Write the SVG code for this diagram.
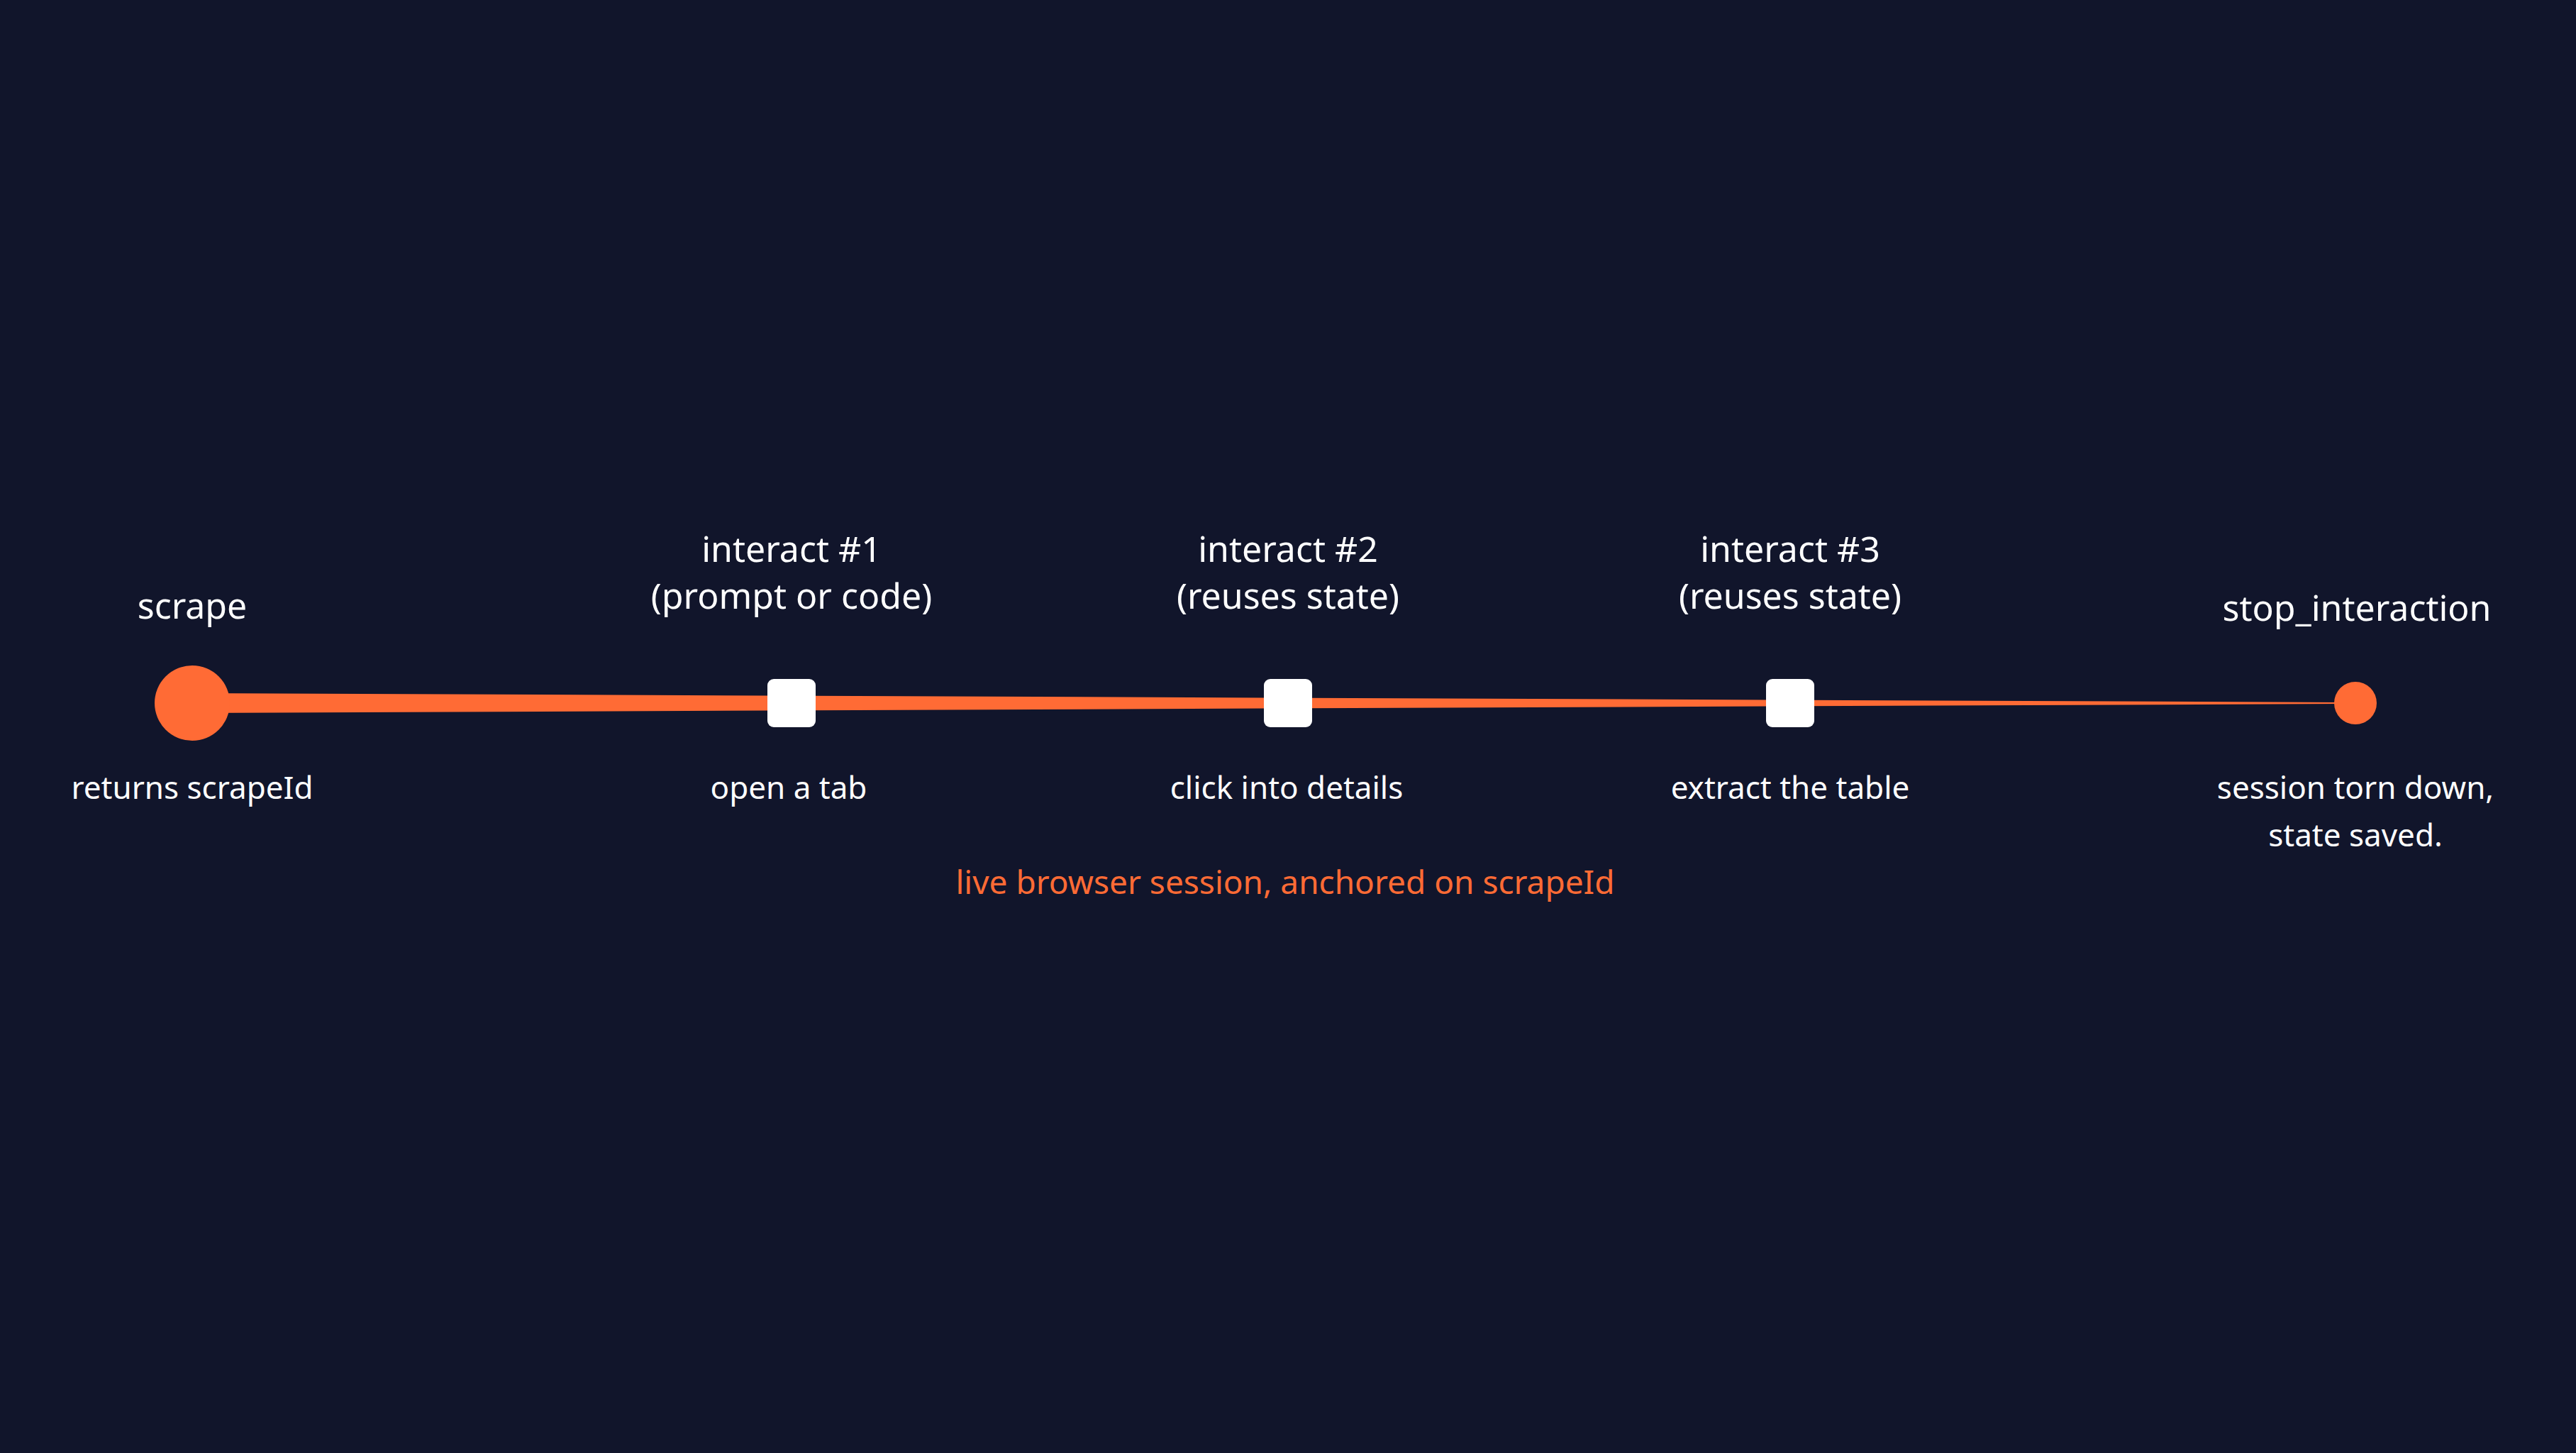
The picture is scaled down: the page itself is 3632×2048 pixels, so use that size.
<svg xmlns="http://www.w3.org/2000/svg" width="3632" height="2048" viewBox="0 0 3632 2048">
<style>
.t{font-family:"Noto Sans","Liberation Sans",sans-serif;fill:#ffffff;text-anchor:middle}
.h{font-size:50px}
.s{font-size:44px}
.o{font-family:"Noto Sans","Liberation Sans",sans-serif;fill:#ff6b35;font-size:46px;text-anchor:middle}
.sq{fill:#ffffff}
</style>
<rect width="3632" height="2048" fill="#11152b"/>
<g id="connectors">
<polygon points="271,977 3321,990 3321,992 271,1005" fill="#ff6b35"/>
</g>
<g id="scrape">
<circle cx="271" cy="991" r="53" fill="#ff6b35"/>
<text class="t h" x="271" y="872">scrape</text>
<text class="t s" x="271" y="1126">returns scrapeId</text>
</g>
<g id="interact1">
<rect class="sq" x="1082" y="957" width="68" height="68" rx="9"/>
<text class="t h" x="1116" y="792">interact #1</text>
<text class="t h" x="1116" y="858">(prompt or code)</text>
<text class="t s" x="1112" y="1126">open a tab</text>
</g>
<g id="interact2">
<rect class="sq" x="1782" y="957" width="68" height="68" rx="9"/>
<text class="t h" x="1816" y="792">interact #2</text>
<text class="t h" x="1816" y="858">(reuses state)</text>
<text class="t s" x="1814" y="1126">click into details</text>
</g>
<g id="interact3">
<rect class="sq" x="2490" y="957" width="68" height="68" rx="9"/>
<text class="t h" x="2524" y="792">interact #3</text>
<text class="t h" x="2524" y="858">(reuses state)</text>
<text class="t s" x="2524" y="1126">extract the table</text>
</g>
<g id="stop">
<circle cx="3321" cy="991" r="30" fill="#ff6b35"/>
<text class="t h" x="3323" y="875">stop_interaction</text>
<text class="t s" x="3321" y="1126">session torn down,</text>
<text class="t s" x="3321" y="1193">state saved.</text>
</g>
<g id="caption">
<text class="o" x="1812" y="1260">live browser session, anchored on scrapeId</text>
</g>
</svg>
